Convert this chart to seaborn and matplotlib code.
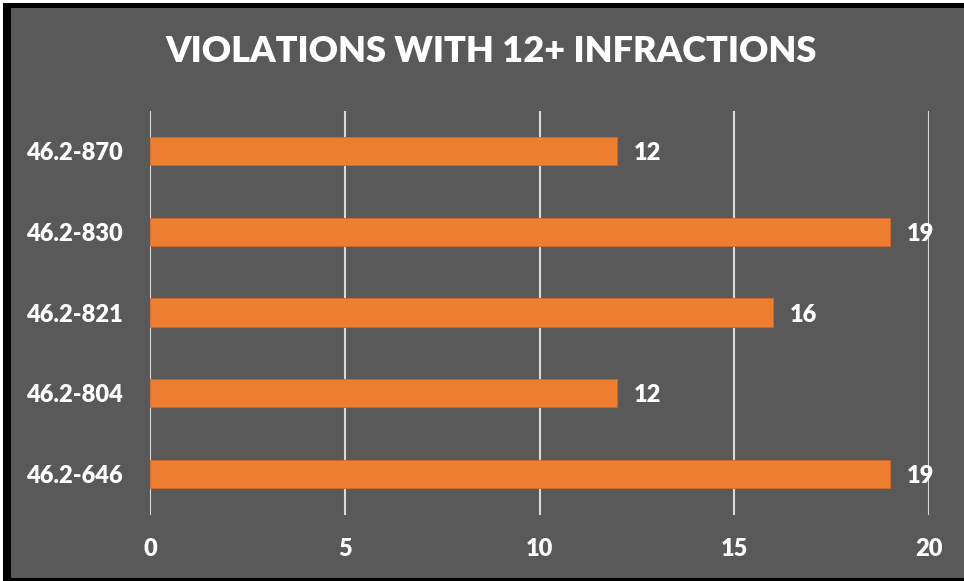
import matplotlib
matplotlib.use("Agg")
import matplotlib.pyplot as plt
from matplotlib.patches import Rectangle
import seaborn as sns
import pandas as pd

codes = ["46.2-870", "46.2-830", "46.2-821", "46.2-804", "46.2-646"]
counts = [12, 19, 16, 12, 19]
x_ticks = [0, 5, 10, 15, 20]

BG = "#595959"
BAR = "#ED7D31"
GRID = "#D9D9D9"

sns.set_theme(style="white")
plt.rcParams["font.family"] = ["Lato", "DejaVu Sans"]

df = pd.DataFrame({"code": codes, "count": counts})

fig = plt.figure(figsize=(9.64, 5.81), dpi=100, facecolor="white")
W, H = 964, 581
# black frame and dark chart area
fig.patches.append(Rectangle((3 / W, 0), 1, 1 - 3 / H, transform=fig.transFigure,
                             facecolor="black", edgecolor="none", zorder=-2))
fig.patches.append(Rectangle((11 / W, 3 / H), 1, 1 - 11 / H, transform=fig.transFigure,
                             facecolor=BG, edgecolor="none", zorder=-1))

ax = fig.add_axes([150 / W, 1 - 514.5 / H, (929 - 150) / W, (514.5 - 110.5) / H])
ax.set_facecolor(BG)

sns.barplot(data=df, x="count", y="code", order=codes, color=BAR, width=0.35,
            saturation=1, edgecolor="#D0682A", linewidth=0.6, ax=ax, zorder=3)

LABEL_SIZE = 17
ax.set_xlim(0, 20)
ax.set_xticks(x_ticks)
ax.xaxis.grid(True, color=GRID, linewidth=1.5, zorder=0)
ax.yaxis.grid(False)
for s in ax.spines.values():
    s.set_visible(False)
ax.tick_params(axis="both", length=0, colors="white", labelsize=LABEL_SIZE)
ax.tick_params(axis="x", pad=17)
ax.tick_params(axis="y", pad=19.5)
for lab in ax.get_xticklabels() + ax.get_yticklabels():
    lab.set_fontweight("heavy")
ax.set_xlabel("")
ax.set_ylabel("")

for i, v in enumerate(counts):
    ax.text(v + 0.42, i, str(v), color="white", fontsize=LABEL_SIZE, fontweight="heavy",
            va="center_baseline", ha="left", zorder=4)

fig.text(491 / W, 1 - 52 / H, "VIOLATIONS WITH 12+ INFRACTIONS", color="white",
         fontsize=26, fontweight="heavy", ha="center", va="center")

fig.savefig("out.png", dpi=100, facecolor="white")
